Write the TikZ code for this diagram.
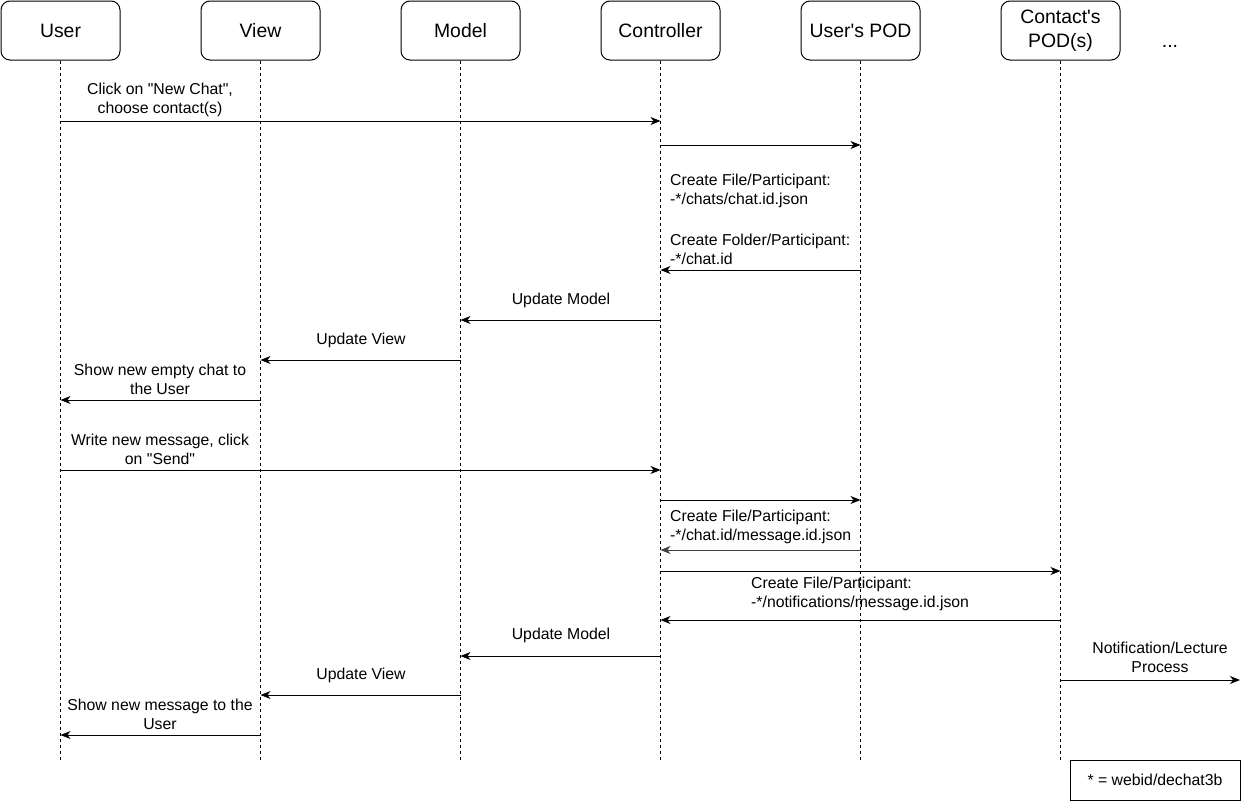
\documentclass[tikz,border=0pt]{standalone}
\usepackage{fontspec}
\setmainfont{Liberation Sans}[Ligatures=TeXOff]
\usetikzlibrary{arrows.meta}
\begin{document}
\begin{tikzpicture}[x=1pt,y=-1pt,
  headbox/.style={draw,line width=1pt,rounded corners=9pt,minimum width=119pt,minimum height=59pt,align=center,inner sep=0pt,font=\fontsize{19.4}{24.5}\selectfont},
  lifeline/.style={line width=1pt,dash pattern=on 3pt off 3pt},
  msg/.style={line width=1pt,-{Stealth[length=10pt,width=8pt,inset=3pt]}},
  lbl/.style={inner sep=0pt,align=center,font=\fontsize{15.8}{19}\selectfont},
  lbll/.style={inner sep=0pt,align=left,anchor=west,font=\fontsize{15.8}{19}\selectfont}]
\useasboundingbox (0,0) rectangle (1249,801);
% headers
\node[headbox] (hU) at (60.5,30.5) {User};
\node[headbox] (hV) at (260.5,30.5) {View};
\node[headbox] (hM) at (460.5,30.5) {Model};
\node[headbox] (hC) at (660.5,30.5) {Controller};
\node[headbox] (hP) at (860.5,30.5) {User's POD};
\node[headbox] (hQ) at (1060.5,30.5) {Contact's\\POD(s)};
\node[anchor=base,inner sep=0pt,font=\fontsize{19.4}{24}\selectfont] (dots) at (1170,47) {...};
% lifelines
\foreach \n in {U,V,M,C,P,Q}{
  \draw[lifeline] (h\n.south) -- (h\n.south |- 0,760);
}
% messages
\node[lbl] (l1) at (160,99.5) {Click on "New Chat",\\choose contact(s)};
\draw[msg] (hU.south |- 0,121) -- (hC.south |- 0,121);
\draw[msg] (hC.south |- 0,145) -- (hP.south |- 0,145);
\node[lbll] (l3a) at (670,191) {Create File/Participant:\\-*/chats/chat.id.json};
\node[lbll] (l3b) at (670,249) {Create Folder/Participant:\\-*/chat.id};
\draw[msg] (hP.south |- 0,270) -- (hC.south |- 0,270);
\node[lbl] (l4) at (561,300) {Update Model};
\draw[msg] (hC.south |- 0,320) -- (hM.south |- 0,320);
\node[lbl] (l5) at (361,340) {Update View};
\draw[msg] (hM.south |- 0,360) -- (hV.south |- 0,360);
\node[lbl] (l6) at (160,379.5) {Show new empty chat to\\the User};
\draw[msg] (hV.south |- 0,400) -- (hU.south |- 0,400);
\node[lbl] (l7) at (160,449.5) {Write new message, click\\on "Send"};
\draw[msg] (hU.south |- 0,470) -- (hC.south |- 0,470);
\draw[msg] (hC.south |- 0,500) -- (hP.south |- 0,500);
\node[lbll] (l9) at (670,526.5) {Create File/Participant:\\-*/chat.id/message.id.json};
\draw[msg,draw=black!75] (hP.south |- 0,550) -- (hC.south |- 0,550);
\draw[msg] (hC.south |- 0,571) -- (hQ.south |- 0,571);
\node[lbll] (l11) at (751,594) {Create File/Participant:\\-*/notifications/message.id.json};
\draw[msg] (hQ.south |- 0,620) -- (hC.south |- 0,620);
\node[lbl] (l12) at (561,635) {Update Model};
\draw[msg] (hC.south |- 0,656) -- (hM.south |- 0,656);
\node[lbl] (l13) at (361,675) {Update View};
\draw[msg] (hM.south |- 0,695) -- (hV.south |- 0,695);
\node[lbl] (l14) at (160,714.5) {Show new message to the\\User};
\draw[msg] (hV.south |- 0,735) -- (hU.south |- 0,735);
\node[lbl] (l15) at (1160,657.5) {Notification/Lecture\\Process};
\coordinate (out) at (1240,680);
\draw[msg] (hQ.south |- out) -- (out);
% legend
\node[draw,line width=1pt,minimum width=170pt,minimum height=40pt,inner sep=0pt,font=\fontsize{15.8}{19}\selectfont] (leg) at (1155,780) {* = webid/dechat3b};
\end{tikzpicture}
\end{document}
